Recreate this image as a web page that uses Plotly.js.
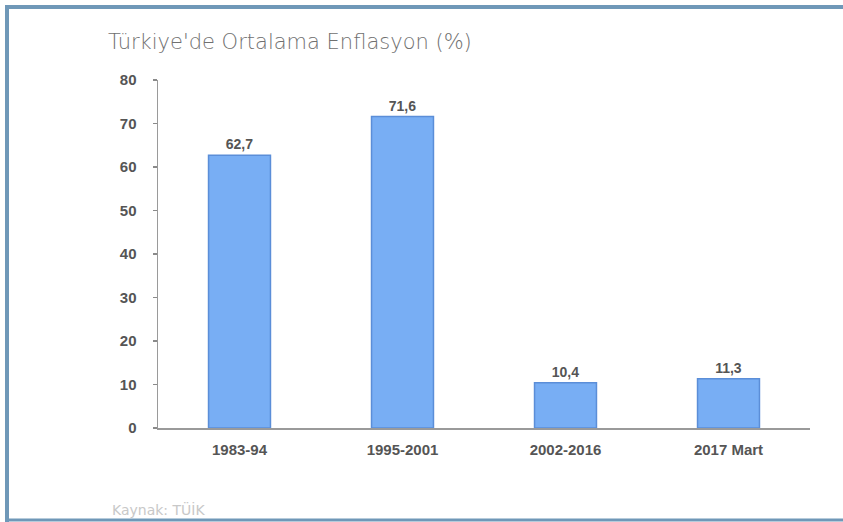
<!DOCTYPE html>
<html>
<head>
<meta charset="utf-8">
<script src="https://cdn.plot.ly/plotly-3.0.1.min.js"></script>
<style>
html,body{margin:0;padding:0;background:#fff;}
#chart{width:843px;height:522px;}
</style>
</head>
<body>
<div id="chart"></div>
<script>
const categories = ["1983-94", "1995-2001", "2002-2016", "2017 Mart"];
const values = [62.7, 71.6, 10.4, 11.3];
const valueLabels = ["62,7", "71,6", "10,4", "11,3"];
const yTicks = [0, 10, 20, 30, 40, 50, 60, 70, 80];

const frame = '#6f98b8';
const tickFont = {family: 'Liberation Sans, Arial, sans-serif', size: 15, color: '#555555', weight: 'bold'};
const trace = {
  type: 'bar',
  x: categories,
  y: values,
  text: valueLabels,
  texttemplate: '%{text}',
  textposition: 'outside',
  cliponaxis: false,
  textfont: {family: 'Liberation Sans, Arial, sans-serif', size: 14, color: '#555555', weight: 'bold'},
  marker: {color: '#78aef4', line: {color: '#5b8ed8', width: 1.5}},
  width: 0.38,
  hoverinfo: 'skip'
};

const layout = {
  width: 843, height: 522,
  margin: {l: 158, r: 33, t: 80, b: 94},
  paper_bgcolor: '#ffffff',
  plot_bgcolor: '#ffffff',
  showlegend: false,
  xaxis: {
    type: 'category',
    range: [-0.5, 3.5],
    showline: true, linecolor: '#9a9a9a', linewidth: 1.5,
    ticks: '', showgrid: false, zeroline: false,
    ticklabelstandoff: 7,
    tickfont: tickFont
  },
  yaxis: {
    range: [0, 80],
    tickvals: yTicks,
    showline: true, linecolor: '#9a9a9a', linewidth: 1.5,
    ticks: 'outside', ticklen: 4, tickcolor: '#8a8a8a', tickwidth: 1.5,
    showgrid: false, zeroline: false,
    ticklabelstandoff: 13,
    tickfont: tickFont
  },
  annotations: [
    {xref: 'paper', yref: 'paper', x: (106 - 158) / 652, y: (428 - 42) / 348,
     xanchor: 'left', yanchor: 'middle', showarrow: false,
     text: "Türkiye'de Ortalama Enflasyon (%)",
     font: {family: 'DejaVu Sans, sans-serif', size: 21, color: '#707070', weight: 300}},
    {xref: 'paper', yref: 'paper', x: (110 - 158) / 652, y: (428 - 509) / 348,
     xanchor: 'left', yanchor: 'middle', showarrow: false,
     text: 'Kaynak: TÜİK',
     font: {family: 'DejaVu Sans, sans-serif', size: 14, color: '#c8c8c8'}}
  ],
  shapes: [
    {type: 'line', xref: 'paper', yref: 'paper', x0: (7 - 158) / 652, x1: (850 - 158) / 652,
     y0: (428 - 7) / 348, y1: (428 - 7) / 348, line: {color: frame, width: 4}},
    {type: 'line', xref: 'paper', yref: 'paper', x0: (7 - 158) / 652, x1: (7 - 158) / 652,
     y0: (428 - 5) / 348, y1: (428 - 522) / 348, line: {color: frame, width: 4}},
    {type: 'line', xref: 'paper', yref: 'paper', x0: (7 - 158) / 652, x1: (850 - 158) / 652,
     y0: (428 - 520) / 348, y1: (428 - 520) / 348, line: {color: frame, width: 3}}
  ]
};

Plotly.newPlot('chart', [trace], layout, {displayModeBar: false, staticPlot: true});
</script>
</body>
</html>
